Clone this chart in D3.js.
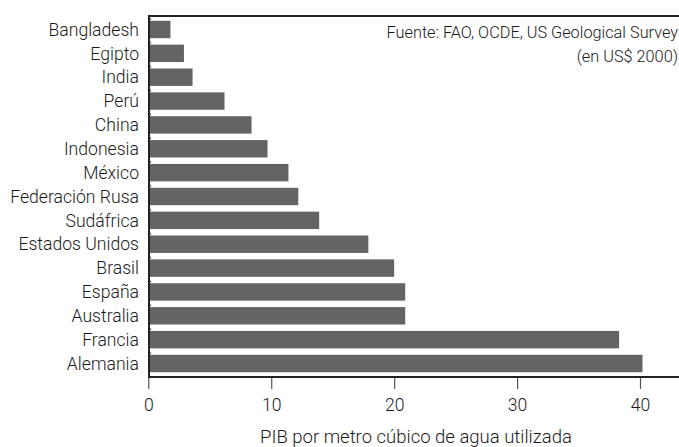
<!DOCTYPE html>
<html>
<head>
<meta charset="utf-8">
<script src="https://cdn.jsdelivr.net/npm/d3@7"></script>
<style>
  body { margin: 0; background: #fff; }
  svg text { font-family: Roboto, "Noto Sans", sans-serif; font-weight: 300; fill: #1a1a1a; }
</style>
</head>
<body>
<svg id="chart" width="679" height="447"></svg>
<script>
var countries = ["Bangladesh", "Egipto", "India", "Perú", "China", "Indonesia", "México",
    "Federación Rusa", "Sudáfrica", "Estados Unidos", "Brasil", "España", "Australia",
    "Francia", "Alemania"];
var values = [1.8, 2.9, 3.6, 6.2, 8.4, 9.7, 11.4, 12.2, 13.9, 17.9, 20.0, 20.9, 20.9, 38.3, 40.2];
var xTicks = [0, 10, 20, 30, 40];
var sourceLines = ["Fuente: FAO, OCDE, US Geological Survey", "(en US$ 2000)"];
var xTitle = "PIB por metro cúbico de agua utilizada";

var width = 679;
var height = 447;
var plotLeft = 149, plotTop = 16, plotBottom = 377;

var svg = d3.select("#chart");

var xScale = d3.scaleLinear()
    .domain([0, 40])
    .range([148.3, 640]);

var yScale = d3.scaleBand()
    .domain(countries)
    .range([plotTop, plotBottom])
    .paddingInner(0.27)
    .paddingOuter(0.2);

// bars
svg.selectAll("rect.bar")
    .data(countries)
    .enter()
    .append("rect")
    .attr("class", "bar")
    .attr("x", plotLeft)
    .attr("y", function(d) { return yScale(d); })
    .attr("width", function(d, i) { return xScale(values[i]) - plotLeft; })
    .attr("height", yScale.bandwidth())
    .attr("fill", "#646466");

// category labels
svg.selectAll("text.cat")
    .data(countries)
    .enter()
    .append("text")
    .attr("class", "cat")
    .attr("x", 139)
    .attr("y", function(d) { return yScale(d) + yScale.bandwidth() / 2; })
    .attr("dy", "0.35em")
    .attr("text-anchor", "end")
    .attr("font-size", 17.6)
    .text(function(d) { return d; });

// small marks on the left axis between categories
svg.selectAll("line.sep")
    .data(countries)
    .enter()
    .append("line")
    .attr("class", "sep")
    .attr("x1", plotLeft)
    .attr("x2", plotLeft + 2)
    .attr("y1", function(d) { return yScale(d) - 4; })
    .attr("y2", function(d) { return yScale(d) - 1; })
    .attr("stroke", "#333")
    .attr("stroke-width", 1);

// frame: top line and left axis
svg.append("line")
    .attr("x1", plotLeft - 1).attr("x2", width)
    .attr("y1", plotTop).attr("y2", plotTop)
    .attr("stroke", "#222").attr("stroke-width", 2);
svg.append("line")
    .attr("x1", plotLeft).attr("x2", plotLeft)
    .attr("y1", plotTop).attr("y2", plotBottom)
    .attr("stroke", "#222").attr("stroke-width", 2);

// x axis
var xAxis = d3.axisBottom(xScale)
    .tickValues(xTicks)
    .tickSize(12)
    .tickPadding(10);

var gx = svg.append("g")
    .attr("transform", "translate(0," + plotBottom + ")")
    .call(xAxis);
gx.select(".domain").remove();
gx.selectAll(".tick line").attr("stroke", "#555").attr("stroke-width", 1.2);
gx.selectAll(".tick text")
    .attr("font-size", 17.6)
    .attr("font-family", "Roboto, sans-serif")
    .attr("fill", "#1a1a1a");

svg.append("line")
    .attr("x1", plotLeft - 1).attr("x2", width)
    .attr("y1", plotBottom).attr("y2", plotBottom)
    .attr("stroke", "#222").attr("stroke-width", 2);

// x title
svg.append("text")
    .attr("x", 416)
    .attr("y", 443)
    .attr("text-anchor", "middle")
    .attr("font-size", 18.5)
    .text(xTitle);

// source note
svg.selectAll("text.src")
    .data(sourceLines)
    .enter()
    .append("text")
    .attr("class", "src")
    .attr("x", 678)
    .attr("y", function(d, i) { return 38 + i * 24; })
    .attr("text-anchor", "end")
    .attr("font-size", 16.3)
    .text(function(d) { return d; });
</script>
</body>
</html>
